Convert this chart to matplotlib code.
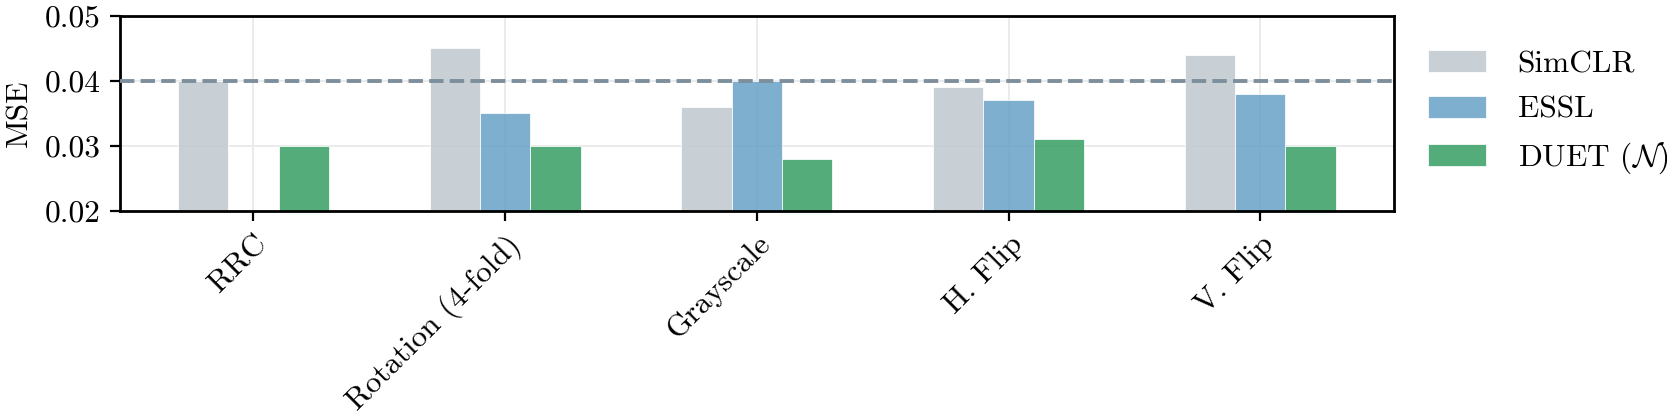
import numpy as np
import matplotlib
matplotlib.use("Agg")
import matplotlib.pyplot as plt

plt.rcParams['font.family'] = ['cmr10', 'DejaVu Serif']
plt.rcParams['mathtext.fontset'] = 'cm'
plt.rcParams['axes.formatter.use_mathtext'] = True
plt.rcParams['font.size'] = 11.3

augs = ['RRC', 'Rotation (4-fold)', 'Grayscale', 'H. Flip', 'V. Flip']
simclr = [0.040, 0.045, 0.036, 0.039, 0.044]
essl = [np.nan, 0.035, 0.040, 0.037, 0.038]
duet = [0.030, 0.030, 0.028, 0.031, 0.030]
baseline = 0.040

labels = ['SimCLR', 'ESSL', r'DUET ($\mathcal{N}$)']
colors = ['#c2cbd1', '#70a6ca', '#40a36b']

fig = plt.figure(figsize=(8.335, 2.085), dpi=200)
ax = fig.add_axes([0.072, 0.494, 0.764, 0.468])

x = np.arange(len(augs))
w = 0.2
for i, (vals, c, lab) in enumerate(zip([simclr, essl, duet], colors, labels)):
    v = np.array(vals)
    ax.bar(x + (i - 1) * w, v - 0.02, w, bottom=0.02, color=c, alpha=0.9,
           edgecolor=(1, 1, 1, 0.4), linewidth=0.3, label=lab, zorder=2)

ax.axhline(baseline, color='#7d8f9c', ls='--', lw=1.4, zorder=3)

ax.set_ylim(0.02, 0.05)
ax.set_yticks([0.02, 0.03, 0.04, 0.05])
ax.set_yticklabels(['0.02', '0.03', '0.04', '0.05'])
ax.set_xticks(x)
ax.set_xticklabels(augs, rotation=45, ha='right', rotation_mode='anchor')
ax.set_ylabel('MSE')
ax.grid(True, color='#ebebeb', lw=0.7, zorder=0)
ax.set_axisbelow(True)
for s in ax.spines.values():
    s.set_linewidth(1.0)

ax.legend(loc='center left', bbox_to_anchor=(1.005, 0.5), frameon=False,
          handlelength=1.85, handleheight=0.7, handletextpad=1.0, labelspacing=0.55)

fig.savefig('out.png', dpi=200)
